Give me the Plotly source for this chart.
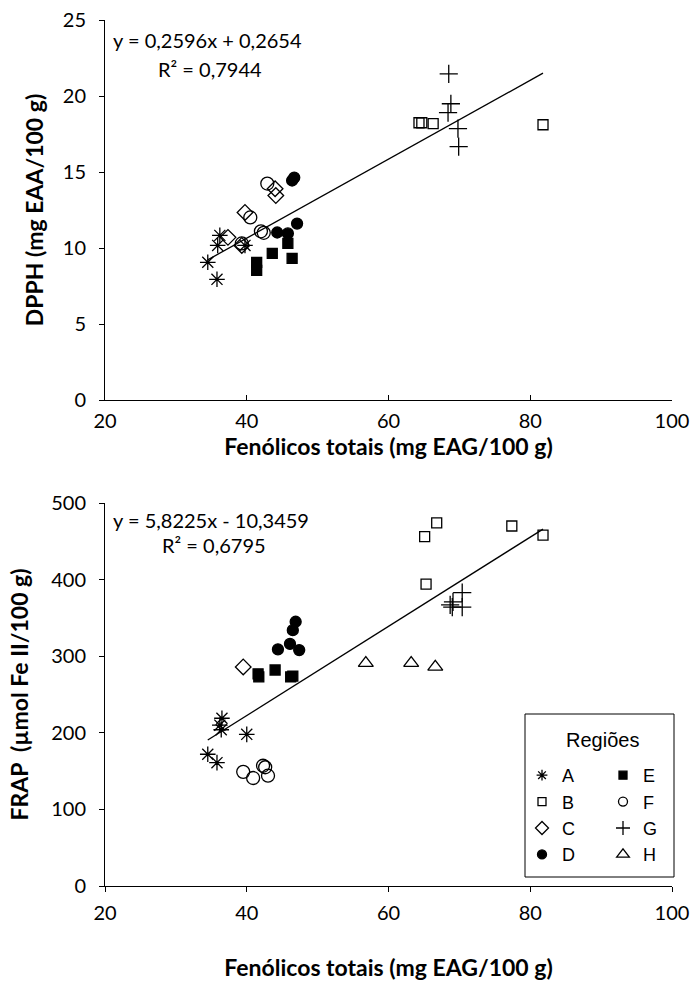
import plotly.graph_objects as go

# ---------------- data ----------------
regions = ["A", "B", "C", "D", "E", "F", "G", "H"]

# Top chart: DPPH vs total phenolics
dpph_A_x = [36.2, 35.9, 34.5, 35.8, 39.75]
dpph_A_y = [10.83, 10.17, 9.06, 7.94, 10.17]
dpph_B_x = [64.3, 64.7, 66.3, 81.8]
dpph_B_y = [18.24, 18.24, 18.18, 18.11]
dpph_C_x = [44.0, 44.1, 39.75, 37.35, 39.3]
dpph_C_y = [13.9, 13.45, 12.34, 10.7, 10.17]
dpph_D_x = [46.7, 46.4, 47.1, 44.3, 45.8]
dpph_D_y = [14.63, 14.44, 11.61, 11.02, 10.96]
dpph_E_x = [45.8, 43.6, 41.4, 41.4, 46.4]
dpph_E_y = [10.3, 9.65, 9.06, 8.53, 9.32]
dpph_F_x = [42.9, 40.5, 42.0, 42.4, 39.3]
dpph_F_y = [14.24, 12.01, 11.1, 11.0, 10.3]
dpph_G_x = [68.5, 68.8, 68.4, 69.8, 69.9]
dpph_G_y = [21.46, 19.49, 18.9, 17.85, 16.67]

# Bottom chart: FRAP vs total phenolics
frap_A_x = [36.5, 36.2, 36.4, 40.0, 34.5, 35.8]
frap_A_y = [219, 210, 204, 198, 172, 161]
frap_B_x = [65.1, 65.3, 66.8, 77.4, 81.8]
frap_B_y = [456, 394, 474, 470, 458]
frap_C_x = [39.5]
frap_C_y = [286]
frap_D_x = [46.9, 46.5, 46.1, 44.4, 47.4]
frap_D_y = [345, 334, 316, 309, 308]
frap_E_x = [41.6, 41.7, 44.0, 46.5, 46.2]
frap_E_y = [277, 273, 282, 274, 273]
frap_F_x = [39.5, 40.9, 42.3, 42.6, 43.0]
frap_F_y = [149, 141, 157, 155, 144]
frap_G_x = [68.7, 69.1, 70.4, 70.4, 69.0]
frap_G_y = [367, 371, 383, 364, 364]
frap_H_x = [56.8, 63.2, 66.6]
frap_H_y = [291, 291, 286]

# linear fits reported on the chart
dpph_slope, dpph_intercept, dpph_r2 = 0.2596, 0.2654, 0.7944
frap_slope, frap_intercept, frap_r2 = 5.8225, -10.3459, 0.6795
fit_x = [34.5, 81.8]

x_ticks = [20, 40, 60, 80, 100]
dpph_ticks = [0, 5, 10, 15, 20, 25]
frap_ticks = [0, 100, 200, 300, 400, 500]

x_title = "Fenólicos totais (mg EAG/100 g)"
dpph_title = "DPPH (mg EAA/100 g)"
frap_title = "FRAP\u00a0 (µmol Fe II/100 g)"
legend_title = "Regiões"

# ---------------- styles ----------------
W, H = 697, 984
sym = {"A": ("asterisk-open", 13), "B": ("square-open", 10), "C": ("diamond-open", 12),
       "D": ("circle", 11), "E": ("square", 10), "F": ("circle-open", 13),
       "G": ("cross-thin-open", 13), "H": ("triangle-up-open", 13)}
leg_size = {"A": 9, "B": 8, "C": 10, "D": 9, "E": 8, "F": 9, "G": 10, "H": 11}

top_data = {"A": (dpph_A_x, dpph_A_y), "B": (dpph_B_x, dpph_B_y), "C": (dpph_C_x, dpph_C_y),
            "D": (dpph_D_x, dpph_D_y), "E": (dpph_E_x, dpph_E_y), "F": (dpph_F_x, dpph_F_y),
            "G": (dpph_G_x, dpph_G_y)}
bot_data = {"A": (frap_A_x, frap_A_y), "B": (frap_B_x, frap_B_y), "C": (frap_C_x, frap_C_y),
            "D": (frap_D_x, frap_D_y), "E": (frap_E_x, frap_E_y), "F": (frap_F_x, frap_F_y),
            "G": (frap_G_x, frap_G_y), "H": (frap_H_x, frap_H_y)}

fig = go.Figure()

def fit_line(slope, intercept, xa, ya):
    fig.add_trace(go.Scatter(x=fit_x, y=[slope * v + intercept for v in fit_x], mode="lines",
                             line=dict(color="black", width=1.3), showlegend=False,
                             xaxis=xa, yaxis=ya, hoverinfo="skip"))

fit_line(dpph_slope, dpph_intercept, "x", "y")
fit_line(frap_slope, frap_intercept, "x2", "y2")

def marker(r, size=None):
    s, sz = sym[r]
    return dict(symbol=s, size=size or sz, color="black", line=dict(color="black", width=1.3))

for r, (xs, ys) in top_data.items():
    fig.add_trace(go.Scatter(x=xs, y=ys, mode="markers", marker=marker(r), name=r,
                             legendgroup=r, showlegend=False, xaxis="x", yaxis="y"))

for r, (xs, ys) in bot_data.items():
    fig.add_trace(go.Scatter(x=xs, y=ys, mode="markers", marker=marker(r), name=r,
                             legendgroup=r, showlegend=False, xaxis="x2", yaxis="y2"))

# legend entries (smaller symbols, as in the original key)
for r in regions:
    fig.add_trace(go.Scatter(x=[None], y=[None], mode="markers", marker=marker(r, leg_size[r]),
                             name=r, legendgroup=r, showlegend=True, xaxis="x2", yaxis="y2",
                             legend="legend" if r in "ABCD" else "legend2"))

def px_x(p):
    return p / W

def px_y(p):
    return 1 - p / H

tick_font = dict(family="Lato, sans-serif", size=20, color="black")
title_font = dict(family="Lato, sans-serif", size=23, color="black")

axis_common = dict(showline=True, linecolor="black", linewidth=1, showgrid=False,
                   zeroline=False, ticklen=5, tickcolor="black", tickwidth=1,
                   tickfont=tick_font, automargin=False)

leg_font = dict(family="Liberation Sans, Arial, sans-serif", size=18, color="black")

fig.update_layout(
    width=W, height=H, margin=dict(l=0, r=0, t=0, b=0),
    paper_bgcolor="white", plot_bgcolor="white",
    xaxis=dict(axis_common, domain=[px_x(105), px_x(672)], range=[20, 100], tickvals=x_ticks,
               ticks="inside", anchor="y", ticklabelstandoff=3,
               title=dict(text="<b>" + x_title + "</b>", font=title_font, standoff=0)),
    yaxis=dict(axis_common, domain=[px_y(400), px_y(20)], range=[0, 25], tickvals=dpph_ticks,
               ticks="outside", anchor="x", ticklabelstandoff=9,
               title=dict(text="<b>" + dpph_title + "</b>", font=title_font, standoff=12)),
    xaxis2=dict(axis_common, domain=[px_x(105), px_x(672)], range=[20, 100], tickvals=x_ticks,
                ticks="outside", anchor="y2", ticklabelstandoff=4,
                title=dict(text="<b>" + x_title + "</b>", font=title_font, standoff=36)),
    yaxis2=dict(axis_common, domain=[px_y(886), px_y(503)], range=[0, 500], tickvals=frap_ticks,
                ticks="outside", anchor="x2", ticklabelstandoff=9,
                title=dict(text="<b>" + frap_title + "</b>", font=title_font, standoff=16)),
    legend=dict(x=px_x(522), y=px_y(757), xanchor="left", yanchor="top", bgcolor="rgba(0,0,0,0)",
                font=leg_font, tracegroupgap=0, itemsizing="trace"),
    legend2=dict(x=px_x(603), y=px_y(757), xanchor="left", yanchor="top", bgcolor="rgba(0,0,0,0)",
                 font=leg_font, tracegroupgap=0, itemsizing="trace"),
)

# legend frame and title
fig.add_shape(type="rect", xref="paper", yref="paper", x0=px_x(525), x1=px_x(674),
              y0=px_y(877), y1=px_y(714), line=dict(color="black", width=1), fillcolor="rgba(0,0,0,0)")
fig.add_annotation(xref="paper", yref="paper", x=px_x(602), y=px_y(740), text=legend_title,
                   showarrow=False, xanchor="center", yanchor="middle",
                   font=dict(family="Liberation Sans, Arial, sans-serif", size=20, color="black"))

eq_font = dict(family="Lato, sans-serif", size=20, color="black")
def eq(text, x, y):
    fig.add_annotation(xref="paper", yref="paper", x=px_x(x), y=px_y(y), text=text,
                       showarrow=False, xanchor="left", yanchor="middle", font=eq_font)

def fmt(v):
    return f"{v:.4f}".replace(".", ",")

eq(f"y = {fmt(dpph_slope)}x + {fmt(dpph_intercept)}", 111, 40)
eq(f"R² = {fmt(dpph_r2)}", 156, 69)
eq(f"y = {fmt(frap_slope)}x - {fmt(-frap_intercept)}", 111, 520)
eq(f"R² = {fmt(frap_r2)}", 160, 545)

fig.write_html("out.html")
